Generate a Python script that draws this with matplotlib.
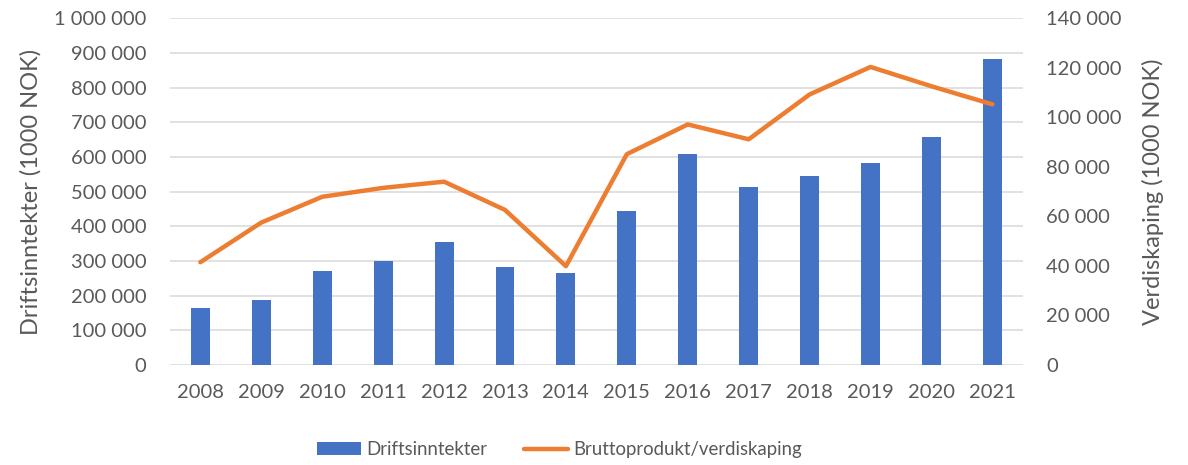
import numpy as np
import matplotlib.pyplot as plt
from matplotlib.ticker import FuncFormatter, MultipleLocator

# data (1000 NOK)
years = ["2008", "2009", "2010", "2011", "2012", "2013", "2014",
         "2015", "2016", "2017", "2018", "2019", "2020", "2021"]
driftsinntekter = [163000, 188000, 270000, 300000, 355000, 283000, 266000,
                   444000, 609000, 513000, 545000, 583000, 657000, 883000]
verdiskaping = [41500, 57500, 67900, 71500, 74000, 62600, 39900,
                85100, 97100, 91100, 109200, 120300, 112500, 105200]

blue = "#4472C4"
orange = "#ED7D31"
grey = "#595959"
gridc = "#D9D9D9"

plt.rcParams["font.family"] = ["Lato", "DejaVu Sans"]

def spaced(v, pos):
    return f"{int(round(v)):,}".replace(",", " ")

fig = plt.figure(figsize=(11.88, 4.65), dpi=100)
ax = fig.add_axes([0.143, 0.215, 0.718, 0.746])
ax2 = ax.twinx()

x = np.arange(len(years))
ax.bar(x, driftsinntekter, width=0.31, color=blue, zorder=2, label="Driftsinntekter")
ax2.plot(x, verdiskaping, color=orange, lw=3.2, solid_capstyle="round",
         solid_joinstyle="round", zorder=3, label="Bruttoprodukt/verdiskaping")

ax.set_xlim(-0.5, len(years) - 0.5)
ax.set_ylim(0, 1000000)
ax2.set_ylim(0, 140000)
ax.yaxis.set_major_locator(MultipleLocator(100000))
ax2.yaxis.set_major_locator(MultipleLocator(20000))
ax.yaxis.set_major_formatter(FuncFormatter(spaced))
ax2.yaxis.set_major_formatter(FuncFormatter(spaced))
ax.set_xticks(x)
ax.set_xticklabels(years)

ax.grid(axis="y", color=gridc, lw=1.1, zorder=0)
ax.set_axisbelow(True)
for a in (ax, ax2):
    for s in a.spines.values():
        s.set_visible(False)
    a.tick_params(length=0, labelsize=14.5, labelcolor=grey)
ax.tick_params(axis="y", pad=17)
ax2.tick_params(axis="y", pad=17)
ax.tick_params(axis="x", pad=14)

ax.set_ylabel("Driftsinntekter (1000 NOK)", fontsize=17, color=grey, labelpad=9)
ax2.set_ylabel("Verdiskaping (1000 NOK)", fontsize=17, color=grey, labelpad=14)

h1, l1 = ax.get_legend_handles_labels()
h2, l2 = ax2.get_legend_handles_labels()
fig.legend(h1 + h2, l1 + l2, loc="center", bbox_to_anchor=(0.471, 0.033),
           ncol=2, frameon=False, fontsize=13.4, labelcolor=grey,
           handlelength=2.35, handletextpad=0.27, columnspacing=2.0)

fig.savefig("out.png", dpi=100)
